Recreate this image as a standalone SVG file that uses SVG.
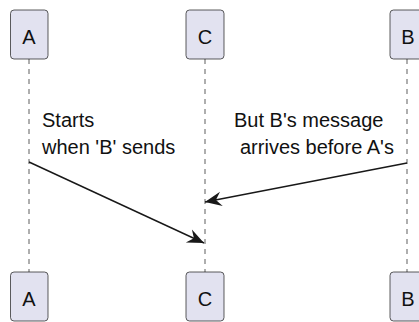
<svg xmlns="http://www.w3.org/2000/svg" width="419" height="322" viewBox="0 0 419 322">
<style>
.box{fill:#E2E2F0;stroke:#181818;stroke-width:0.7}
.life{stroke:#181818;stroke-width:0.7;stroke-dasharray:5,5;fill:none}
.pt{font-family:"Liberation Sans",Arial,sans-serif;font-size:20px;fill:#111;text-anchor:middle}
.msg{font-family:"Liberation Sans",Arial,sans-serif;font-size:20px;fill:#111}
.arr{stroke:#181818;stroke-width:1.4;fill:none}
</style>
<defs>
<marker id="ah" markerUnits="userSpaceOnUse" markerWidth="20" markerHeight="20" viewBox="-16 -8 18 16" refX="0" refY="0" orient="auto">
<path d="M0,0 L-15,-6.5 L-10,0 L-15,6.5 Z" fill="#181818"/>
</marker>
</defs>
<g id="lifelines">
<line class="life" x1="29" y1="59" x2="29" y2="272"/>
<line class="life" x1="205" y1="59" x2="205" y2="272"/>
<line class="life" x1="407" y1="59" x2="407" y2="272"/>
</g>
<g id="A">
<rect class="box" x="10.5" y="10" width="37.5" height="49" rx="3.5"/>
<text class="pt" x="29" y="44">A</text>
<rect class="box" x="10.5" y="272" width="37.5" height="49" rx="3.5"/>
<text class="pt" x="29" y="306">A</text>
</g>
<g id="C">
<rect class="box" x="186" y="10" width="38" height="49" rx="3.5"/>
<text class="pt" x="205" y="44">C</text>
<rect class="box" x="186" y="272" width="38" height="49" rx="3.5"/>
<text class="pt" x="205" y="306">C</text>
</g>
<g id="B">
<rect class="box" x="390" y="10" width="38" height="49" rx="3.5"/>
<text class="pt" x="408" y="44">B</text>
<rect class="box" x="390" y="272" width="38" height="49" rx="3.5"/>
<text class="pt" x="408" y="306">B</text>
</g>
<g id="connectors">
<line class="arr" x1="29" y1="162" x2="204" y2="243" marker-end="url(#ah)"/>
<line class="arr" x1="407" y1="163" x2="205" y2="202" marker-end="url(#ah)"/>
</g>
<g id="labels">
<text class="msg"><tspan x="42" y="127">Starts</tspan><tspan x="42" y="154">when 'B' sends</tspan></text>
<text class="msg"><tspan x="234" y="127">But B's message</tspan><tspan x="240" y="154">arrives before A's</tspan></text>
</g>
</svg>
